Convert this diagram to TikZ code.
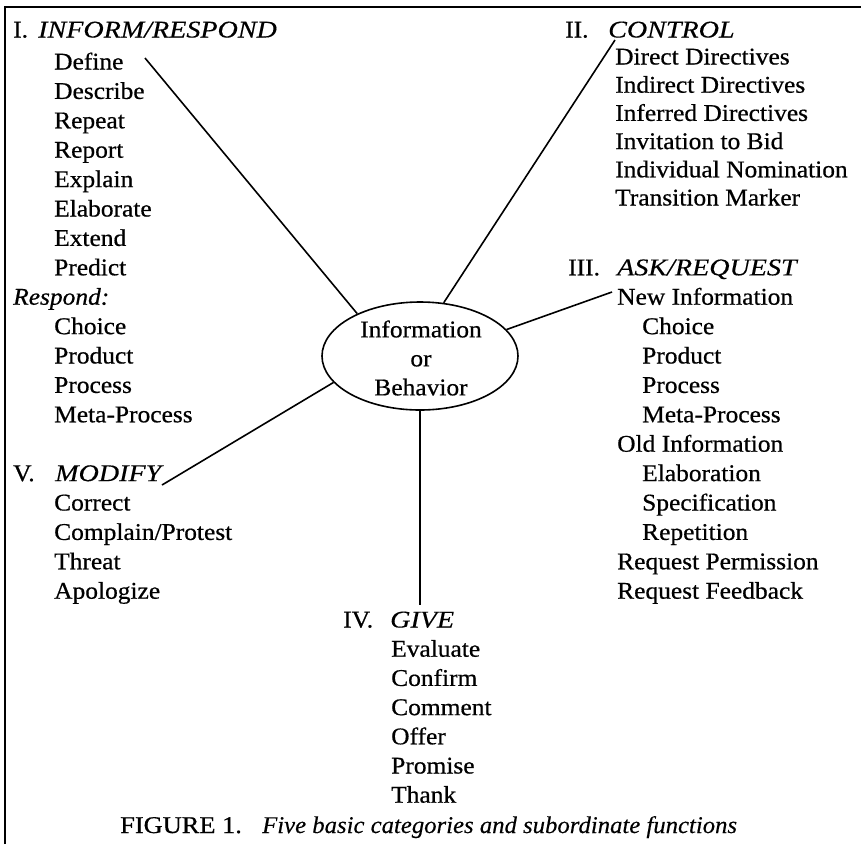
\documentclass[tikz,border=0pt]{standalone}
\usepackage{fontspec}
\setmainfont{Liberation Serif}[FakeStretch=1.06, FakeBold=0.6]
\newfontfamily\hdf{Liberation Serif}[FakeStretch=1.17, FakeBold=0.3]
\newfontfamily\capf{Liberation Serif}[FakeStretch=1.1, FakeBold=0.6]
\newfontfamily\capi{Liberation Serif}[FakeStretch=1.03, FakeBold=0.3]
\usetikzlibrary{shapes.geometric}
\begin{document}
\begin{tikzpicture}[x=1pt,y=-1pt,
  txt/.style={anchor=base west, inner sep=0pt, font=\fontsize{24}{29}\selectfont},
  hd/.style={anchor=base west, inner sep=0pt, font=\fontsize{24}{29}\selectfont\hdf\itshape},
  conn/.style={line width=1.6pt},
  frame/.style={line width=1.9pt}]
\useasboundingbox (0,0) rectangle (861,844);
\draw[frame] (5,844) -- (5,7) -- (861,7);

% centre
\node[ellipse, draw, line width=1.6pt, minimum width=196pt, minimum height=108pt, inner sep=0pt] (ell) at (420,356) {};
\node[align=center, inner sep=0pt, font=\fontsize{24}{29}\selectfont] (elltxt) at (421,358) {Information\\or\\Behavior};

% I. INFORM/RESPOND
\node[txt] (n1) at (13,37.5) {I.};
\node[hd] (h1) at (38,37.5) {INFORM/RESPOND};
\foreach \t [count=\i from 0] in {Define,Describe,Repeat,Report,Explain,Elaborate,Extend,Predict}
  \node[txt] (L\i) at (54,{69.5+29.4*\i}) {\t};
\node[txt, font=\fontsize{24}{29}\selectfont\itshape] (resp) at (13,{69.5+29.4*8}) {Respond:};
\foreach \t [count=\i from 9] in {Choice,Product,Process,Meta-Process}
  \node[txt] (L\i) at (54,{69.5+29.4*\i}) {\t};

% V. MODIFY
\node[txt] (n5) at (13,{69.5+29.4*14}) {V.};
\node[hd] (h5) at (55,{69.5+29.4*14}) {MODIFY};
\foreach \t [count=\i from 15] in {Correct,Complain/Protest,Threat,Apologize}
  \node[txt] (M\i) at (54,{69.5+29.4*\i}) {\t};

% II. CONTROL
\node[txt] (n2) at (565,37.5) {II.};
\node[hd] (h2) at (608,37.5) {CONTROL};
\foreach \t [count=\i from 0] in {Direct Directives,Indirect Directives,Inferred Directives,Invitation to Bid,Individual Nomination,Transition Marker}
  \node[txt] (C\i) at (615,{64.5+28.2*\i}) {\t};

% III. ASK/REQUEST
\node[txt] (n3) at (568,{69.5+29.4*7}) {III.};
\node[hd] (h3) at (617,{69.5+29.4*7}) {ASK/REQUEST};
\node[txt] (A8) at (617,{69.5+29.4*8}) {New Information};
\foreach \t [count=\i from 9] in {Choice,Product,Process,Meta-Process}
  \node[txt] (A\i) at (642,{69.5+29.4*\i}) {\t};
\node[txt] (A13) at (617,{69.5+29.4*13}) {Old Information};
\foreach \t [count=\i from 14] in {Elaboration,Specification,Repetition}
  \node[txt] (A\i) at (642,{69.5+29.4*\i}) {\t};
\node[txt] (A17) at (617,{69.5+29.4*17}) {Request Permission};
\node[txt] (A18) at (617,{69.5+29.4*18}) {Request Feedback};

% IV. GIVE
\node[txt] (n4) at (343,627.5) {IV.};
\node[hd] (h4) at (390,627.5) {GIVE};
\foreach \t [count=\i from 1] in {Evaluate,Confirm,Comment,Offer,Promise,Thank}
  \node[txt] (G\i) at (391,{627.5+29.2*\i}) {\t};

% caption
\node[anchor=base west, inner sep=0pt, font=\fontsize{24}{29}\selectfont\capf] (cap1) at (120,833) {FIGURE 1.};
\node[anchor=base west, inner sep=0pt, font=\fontsize{24}{29}\selectfont\capi\itshape] (cap2) at (262,833) {Five basic categories and subordinate functions};

% connectors
\coordinate (e1) at (145,58);
\coordinate (e2) at (615,40);
\coordinate (e3) at (612,292);
\coordinate (e4) at (162,485);
\coordinate (e5) at (420,605);
\draw[conn] (e1) -- (ell.146.7);
\draw[conn] (e2) -- (ell.66.7);
\draw[conn] (e3) -- (ell.17.9);
\draw[conn] (e4) -- (ell.197);
\draw[conn] (ell.south) -- (e5);
\end{tikzpicture}
\end{document}
